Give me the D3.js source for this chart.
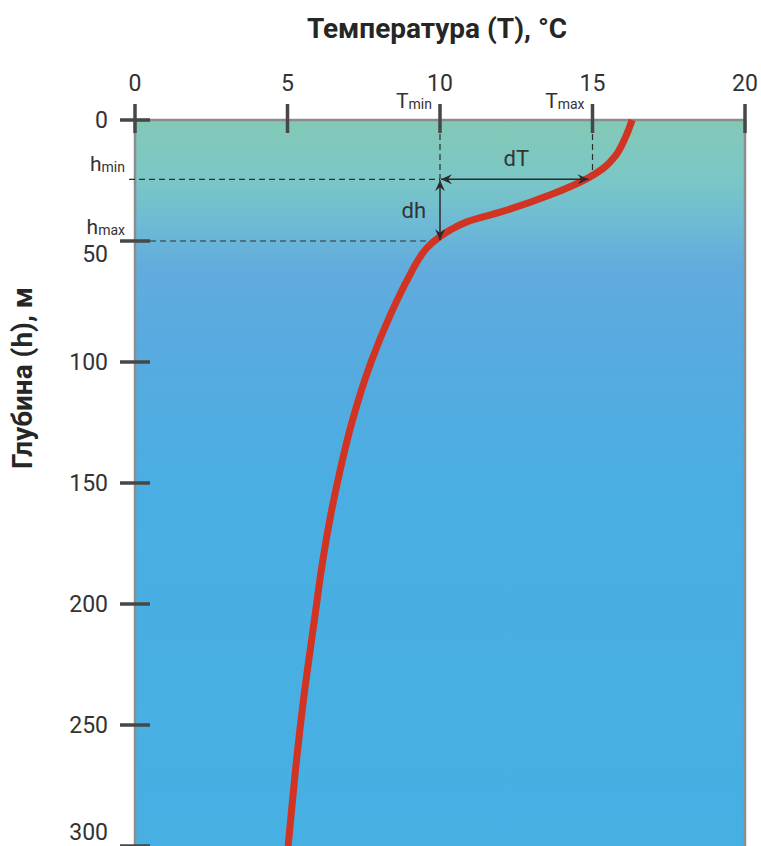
<!DOCTYPE html>
<html>
<head>
<meta charset="utf-8">
<script src="https://cdn.jsdelivr.net/npm/d3@7"></script>
<style>
	html, body { margin: 0; padding: 0; background: #fff; }
	#chart { width: 761px; height: 846px; }
</style>
</head>
<body>
<div id="chart"></div>
<script>
//data
const depths = [0, 8, 15, 20, 24, 31, 38, 42, 45.5, 48.2, 53, 56, 65, 80, 100, 125, 145, 165, 185, 205, 240, 270, 300];
const temps = [16.3, 16.05, 15.74, 15.35, 14.85, 13.6, 12.0, 10.9, 10.33, 10.0, 9.56, 9.38, 8.97, 8.39, 7.74, 7.11, 6.72, 6.39, 6.12, 5.9, 5.52, 5.25, 5.02];
const tempTicks = [0, 5, 10, 15, 20];
const depthTicks = [0, 50, 100, 150, 200, 250, 300];
const tMin = 10, tMax = 15;
const hMin = 24.5, hMax = 50;

render();

function render() {
	let props = {
		width: 761,
		height: 846,
		left: 135,
		right: 745,
		top: 120,
		bottom: 846,
		lineColor: '#d23424',
		axisColor: '#8c8c8c',
		tickColor: '#474747',
		fontColor: '#333333',
		font: 'Roboto, "Liberation Sans", sans-serif',
	};
	createVisualization(d3.select('#chart'), props);
}

function createVisualization(container, props) {
	let { width, height, left, right, top, bottom, lineColor, axisColor, tickColor, fontColor, font } = props;

	const x = d3.scaleLinear().domain([0, 20]).range([left, right]);
	const y = d3.scaleLinear().domain([0, 300]).range([top, bottom]);

	let svg = container.append('svg')
		.attr('width', width)
		.attr('height', height)
		.style('font-family', font);

	let defs = svg.append('defs');
	let grad = defs.append('linearGradient')
		.attr('id', 'water')
		.attr('gradientUnits', 'userSpaceOnUse')
		.attr('x1', 0).attr('x2', 0)
		.attr('y1', top).attr('y2', bottom);
	[
		[0, '#84c9b6'],
		[0.08, '#7bc7c6'],
		[0.15, '#6cb9d6'],
		[0.2, '#62acdd'],
		[0.3, '#58aadf'],
		[0.5, '#4aaee2'],
		[1, '#46b0e3'],
	].forEach(([o, c]) => grad.append('stop').attr('offset', o).attr('stop-color', c));

	// arrow markers
	const arrow = 'M0,0 L-11,-5 L-7,0 L-11,5 Z';
	defs.append('marker')
		.attr('id', 'arrow')
		.attr('viewBox', '-12 -6 13 12')
		.attr('refX', 0).attr('refY', 0)
		.attr('markerUnits', 'userSpaceOnUse')
		.attr('markerWidth', 13).attr('markerHeight', 12)
		.attr('orient', 'auto-start-reverse')
		.append('path')
		.attr('d', arrow)
		.attr('fill', '#2b2b2b');

	// background
	svg.append('rect')
		.attr('x', left).attr('y', top)
		.attr('width', right - left).attr('height', bottom - top)
		.attr('fill', 'url(#water)');

	// border lines
	let border = svg.append('g').attr('stroke', axisColor).attr('stroke-width', 2.5).attr('fill', 'none');
	border.append('path').attr('d', `M${left},${bottom} V${top} H${right} V${bottom}`);

	// dashed guides
	let guides = svg.append('g')
		.attr('stroke', '#2e2e2e')
		.attr('stroke-width', 1.2)
		.attr('stroke-dasharray', '6,4');
	guides.append('line').attr('x1', x(tMin)).attr('x2', x(tMin)).attr('y1', top + 14).attr('y2', y(hMin));
	guides.append('line').attr('x1', x(tMax)).attr('x2', x(tMax)).attr('y1', top + 14).attr('y2', y(hMin) - 3);
	guides.append('line').attr('x1', left - 6).attr('x2', x(tMin)).attr('y1', y(hMin)).attr('y2', y(hMin));
	guides.append('line').attr('x1', left + 15).attr('x2', x(tMin)).attr('y1', y(hMax)).attr('y2', y(hMax));

	// profile line
	const line = d3.line()
		.x((d) => x(d.t))
		.y((d) => y(d.h))
		.curve(d3.curveMonotoneY);
	const profile = depths.map((h, i) => ({ h: h, t: temps[i] }));
	svg.append('path')
		.datum(profile)
		.attr('d', line)
		.attr('fill', 'none')
		.attr('stroke', lineColor)
		.attr('stroke-width', 7)
		.attr('stroke-linecap', 'butt');

	// dT and dh arrows
	let arrows = svg.append('g').attr('stroke', '#2b2b2b').attr('stroke-width', 1.5);
	arrows.append('line')
		.attr('x1', x(tMin) + 1).attr('x2', x(tMax) - 4)
		.attr('y1', y(hMin)).attr('y2', y(hMin))
		.attr('marker-start', 'url(#arrow)')
		.attr('marker-end', 'url(#arrow)');
	arrows.append('line')
		.attr('x1', x(tMin)).attr('x2', x(tMin))
		.attr('y1', y(hMin) + 1).attr('y2', y(hMax) - 1)
		.attr('marker-start', 'url(#arrow)')
		.attr('marker-end', 'url(#arrow)');

	// ticks
	let ticks = svg.append('g').attr('stroke', tickColor).attr('stroke-width', 3.5);
	ticks.selectAll('.xtick').data(tempTicks).enter().append('line')
		.attr('x1', (d) => x(d)).attr('x2', (d) => x(d))
		.attr('y1', top - 16).attr('y2', top + 13);
	ticks.selectAll('.ytick').data(depthTicks).enter().append('line')
		.attr('x1', left - 15).attr('x2', left + 15)
		.attr('y1', (d) => y(d)).attr('y2', (d) => y(d));

	// tick labels
	svg.append('g').selectAll('text').data(tempTicks).enter().append('text')
		.attr('x', (d) => x(d))
		.attr('y', top - 29)
		.attr('text-anchor', 'middle')
		.attr('font-size', 23)
		.attr('fill', fontColor)
		.text((d) => d);

	const yLabelShift = { 50: 13, 300: -14 };
	svg.append('g').selectAll('text').data(depthTicks).enter().append('text')
		.attr('x', left - 27)
		.attr('y', (d) => y(d) + (yLabelShift[d] || 0))
		.attr('dy', '0.35em')
		.attr('text-anchor', 'end')
		.attr('font-size', 23)
		.attr('fill', fontColor)
		.text((d) => d);

	// titles
	svg.append('text')
		.attr('x', 437)
		.attr('y', 38)
		.attr('text-anchor', 'middle')
		.attr('font-size', 28)
		.attr('font-weight', 'bold')
		.attr('fill', '#262626')
		.text('Температура (T), °C');

	svg.append('text')
		.attr('transform', translation(32, 378) + ' rotate(-90)')
		.attr('text-anchor', 'middle')
		.attr('font-size', 28)
		.attr('font-weight', 'bold')
		.attr('fill', '#262626')
		.text('Глубина (h), м');

	// annotation labels
	subLabel(svg, x(tMin) - 8, top - 12, 'T', 'min', 'end');
	subLabel(svg, x(tMax) - 8, top - 12, 'T', 'max', 'end');
	subLabel(svg, left - 10, y(hMin) - 8, 'h', 'min', 'end');
	subLabel(svg, left - 10, y(hMax) - 7, 'h', 'max', 'end');

	svg.append('text')
		.attr('x', (x(tMin) + x(tMax)) / 2)
		.attr('y', y(hMin) - 13)
		.attr('text-anchor', 'middle')
		.attr('font-size', 22)
		.attr('fill', fontColor)
		.text('dT');
	svg.append('text')
		.attr('x', x(tMin) - 14)
		.attr('y', (y(hMin) + y(hMax)) / 2 + 8)
		.attr('text-anchor', 'end')
		.attr('font-size', 22)
		.attr('fill', fontColor)
		.text('dh');

	function subLabel(sel, px, py, main, sub, anchor) {
		let t = sel.append('text')
			.attr('x', px)
			.attr('y', py)
			.attr('text-anchor', anchor)
			.attr('font-size', 21)
			.attr('fill', fontColor);
		t.append('tspan').text(main);
		t.append('tspan').attr('font-size', 14).attr('dy', 1).text(sub);
	}
}

//utils
function translation(x, y) {
	return `translate(${x}, ${y})`;
}
</script>
</body>
</html>
